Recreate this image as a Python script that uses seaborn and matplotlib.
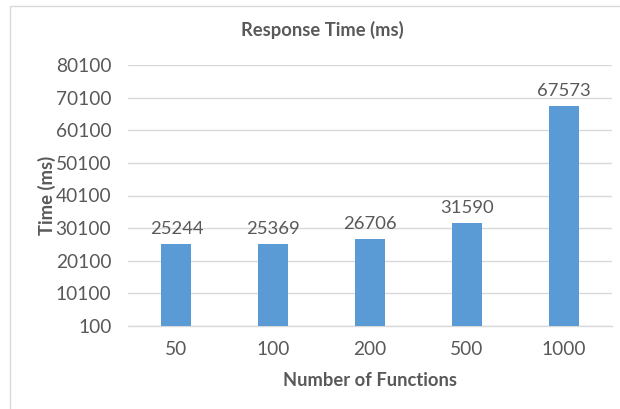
import matplotlib
matplotlib.use("Agg")
import matplotlib.pyplot as plt
import seaborn as sns
import pandas as pd
from matplotlib.patches import Rectangle

categories = ["50", "100", "200", "500", "1000"]
values = [25244, 25369, 26706, 31590, 67573]
yticks = [100, 10100, 20100, 30100, 40100, 50100, 60100, 70100, 80100]

sns.set_theme(style="white")
plt.rcParams['font.family'] = ['Lato', 'DejaVu Sans']

txt = "#595959"
df = pd.DataFrame({"n": categories, "t": values})

fig = plt.figure(figsize=(6.2, 4.09), dpi=100)
ax = fig.add_axes([128/620, 1 - 326/409, (612-128)/620, (326-65)/409])

sns.barplot(data=df, x="n", y="t", ax=ax, color="#5B9BD5", width=0.31,
            saturation=1, edgecolor="none", zorder=3)

ax.set_ylim(100, 80100)
ax.set_yticks(yticks)
ax.set_yticklabels([str(v) for v in yticks])
ax.set_xlim(-0.5, 4.5)
ax.yaxis.grid(True, color="#D9D9D9", linewidth=1, zorder=0)
ax.set_axisbelow(True)
for s in ["top", "right", "left"]:
    ax.spines[s].set_visible(False)
ax.spines["bottom"].set_color("#D9D9D9")
ax.spines["bottom"].set_linewidth(1)
ax.tick_params(axis="both", length=0, labelsize=13.8, colors=txt)
ax.tick_params(axis="y", pad=12)
ax.tick_params(axis="x", pad=11)

for i, v in enumerate(values):
    ax.annotate(str(v), (i, v), xytext=(0, 5), textcoords="offset points",
                ha="center", va="bottom", fontsize=13.3, color=txt)

ax.set_xlabel("Number of Functions", fontsize=13.2, fontweight="bold", color=txt, labelpad=10)
ax.set_ylabel("Time (ms)", fontsize=13.3, fontweight="bold", color=txt, labelpad=0)
fig.text(322/620, 1 - 30/409, "Response Time (ms)", ha="center", va="center",
         fontsize=13.2, fontweight="bold", color=txt)

fig.patches.append(Rectangle((10/620, -0.1), 1.2, 1 - 6/409 + 0.1, transform=fig.transFigure,
                             fill=False, edgecolor="#D9D9D9", linewidth=1))

fig.savefig("out.png", dpi=100)
